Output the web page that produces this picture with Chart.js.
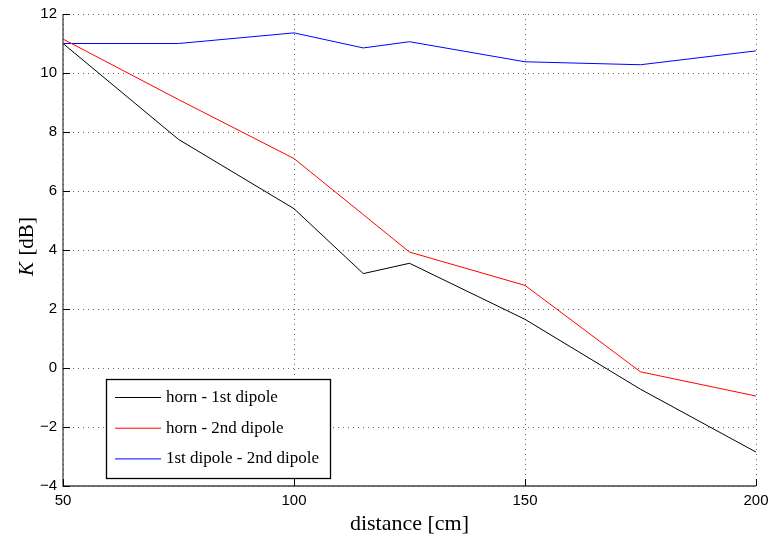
<!DOCTYPE html>
<html>
<head>
<meta charset="utf-8">
<script src="https://cdn.jsdelivr.net/npm/chart.js@4/dist/chart.umd.min.js"></script>
<style>
  html, body { margin: 0; padding: 0; background: #fff; }
  #wrap { width: 772px; height: 537px; position: relative; }
</style>
</head>
<body>
<div id="wrap"><canvas id="c" width="772" height="537"></canvas></div>
<script>
// ---- data ----
const distances = [50, 75, 100, 115, 125, 150, 175, 200];
const hornFirstDipole = [11.0, 7.75, 5.4, 3.2, 3.55, 1.65, -0.72, -2.85];
const hornSecondDipole = [11.15, 9.1, 7.1, 5.2, 3.93, 2.8, -0.13, -0.95];
const firstSecondDipole = [11.0, 11.0, 11.36, 10.85, 11.06, 10.38, 10.28, 10.75];
const seriesLabels = ['horn - 1st dipole', 'horn - 2nd dipole', '1st dipole - 2nd dipole'];
const seriesColors = ['#000000', '#ff0000', '#0000ff'];
const xTicks = [50, 100, 150, 200];
const yTicks = [-4, -2, 0, 2, 4, 6, 8, 10, 12];
const xTitle = 'distance [cm]';
const yTitleItalic = 'K';
const yTitleRest = ' [dB]';

const toPoints = (ys) => distances.map((x, i) => ({ x: x, y: ys[i] }));
const seriesValues = [hornFirstDipole, hornSecondDipole, firstSecondDipole];

const SERIF = '"Liberation Serif", "DejaVu Serif", serif';
const SANS = '"Liberation Sans", Arial, sans-serif';

const matlabPlugin = {
  id: 'matlabDecor',
  afterDatasetsDraw(chart) {
    const ctx = chart.ctx;
    const a = chart.chartArea;
    const xs = chart.scales.x, ys = chart.scales.y;
    ctx.save();
    // axis lines (left, bottom)
    ctx.strokeStyle = '#444';
    ctx.lineWidth = 1.3;
    ctx.beginPath();
    ctx.moveTo(a.left, a.top);
    ctx.lineTo(a.left, a.bottom);
    ctx.lineTo(a.right, a.bottom);
    ctx.stroke();
    // inward ticks
    ctx.strokeStyle = '#000';
    ctx.lineWidth = 1;
    ctx.beginPath();
    yTicks.forEach(v => {
      const p = Math.round(ys.getPixelForValue(v)) + 0.5;
      ctx.moveTo(a.left, p); ctx.lineTo(a.left + 7, p);
    });
    xTicks.forEach(v => {
      const p = Math.round(xs.getPixelForValue(v)) + 0.5;
      ctx.moveTo(p, a.bottom); ctx.lineTo(p, a.bottom - 7);
    });
    ctx.stroke();

    // legend box
    const bx = 106, by = 379, bw = 224, bh = 99;
    ctx.fillStyle = '#fff';
    ctx.fillRect(bx, by, bw, bh);
    ctx.strokeStyle = '#000';
    ctx.lineWidth = 1.3;
    ctx.strokeRect(bx + 0.5, by + 0.5, bw, bh);
    ctx.font = '17px ' + SERIF;
    ctx.textBaseline = 'middle';
    ctx.textAlign = 'left';
    chart.data.datasets.forEach((ds, i) => {
      const yy = by + 18.5 + i * 30.7;
      ctx.strokeStyle = ds.borderColor;
      ctx.lineWidth = 1;
      ctx.beginPath();
      ctx.moveTo(bx + 9, yy); ctx.lineTo(bx + 55, yy);
      ctx.stroke();
      ctx.fillStyle = '#000';
      ctx.fillText(ds.label, bx + 60, yy);
    });

    // y title with italic K
    ctx.fillStyle = '#000';
    ctx.translate(27, 247);
    ctx.rotate(-Math.PI / 2);
    ctx.textBaseline = 'middle';
    ctx.font = 'italic 21px ' + SERIF;
    const w1 = ctx.measureText(yTitleItalic).width;
    ctx.font = '21px ' + SERIF;
    const w2 = ctx.measureText(yTitleRest).width;
    const start = -(w1 + w2) / 2;
    ctx.font = 'italic 21px ' + SERIF;
    ctx.textAlign = 'left';
    ctx.fillText(yTitleItalic, start, 0);
    ctx.font = '21px ' + SERIF;
    ctx.fillText(yTitleRest, start + w1 + 1, 0);
    ctx.restore();
  }
};

new Chart(document.getElementById('c'), {
  type: 'line',
  data: {
    datasets: seriesValues.map((vals, i) => ({
      label: seriesLabels[i],
      data: toPoints(vals),
      borderColor: seriesColors[i],
      backgroundColor: seriesColors[i],
      borderWidth: 1,
      pointRadius: 0,
      tension: 0,
      fill: false
    }))
  },
  options: {
    responsive: false,
    animation: false,
    devicePixelRatio: 1,
    layout: { padding: { left: 0, right: 16, top: 14, bottom: 0 } },
    plugins: {
      legend: { display: false },
      tooltip: { enabled: false }
    },
    scales: {
      x: {
        type: 'linear',
        min: 50, max: 200,
        afterBuildTicks: (s) => { s.ticks = xTicks.map(v => ({ value: v })); },
        afterFit: (s) => { s.height = 51; s.paddingRight = 0; s.paddingLeft = 0; },
        border: { display: false, dash: [1, 4] },
        grid: {
          color: 'rgba(0,0,0,0.6)',
          lineWidth: 1,
          drawTicks: false
        },
        ticks: {
          font: { family: SANS, size: 15 },
          color: '#000',
          padding: 6,
          maxRotation: 0,
          callback: (v) => String(v)
        },
        title: {
          display: true,
          text: xTitle,
          font: { family: SERIF, size: 22 },
          color: '#000',
          padding: { top: 0, bottom: 0 }
        }
      },
      y: {
        type: 'linear',
        min: -4, max: 12,
        afterBuildTicks: (s) => { s.ticks = yTicks.map(v => ({ value: v })); },
        afterFit: (s) => { s.width = 63; s.paddingTop = 0; s.paddingBottom = 0; },
        border: { display: false, dash: [1, 4] },
        grid: {
          color: 'rgba(0,0,0,0.6)',
          lineWidth: 1,
          drawTicks: false
        },
        ticks: {
          font: { family: SANS, size: 15 },
          color: '#000',
          padding: 6,
          callback: (v) => (v < 0 ? '\u2212' + Math.abs(v) : String(v))
        }
      }
    }
  },
  plugins: [matlabPlugin]
});
</script>
</body>
</html>
